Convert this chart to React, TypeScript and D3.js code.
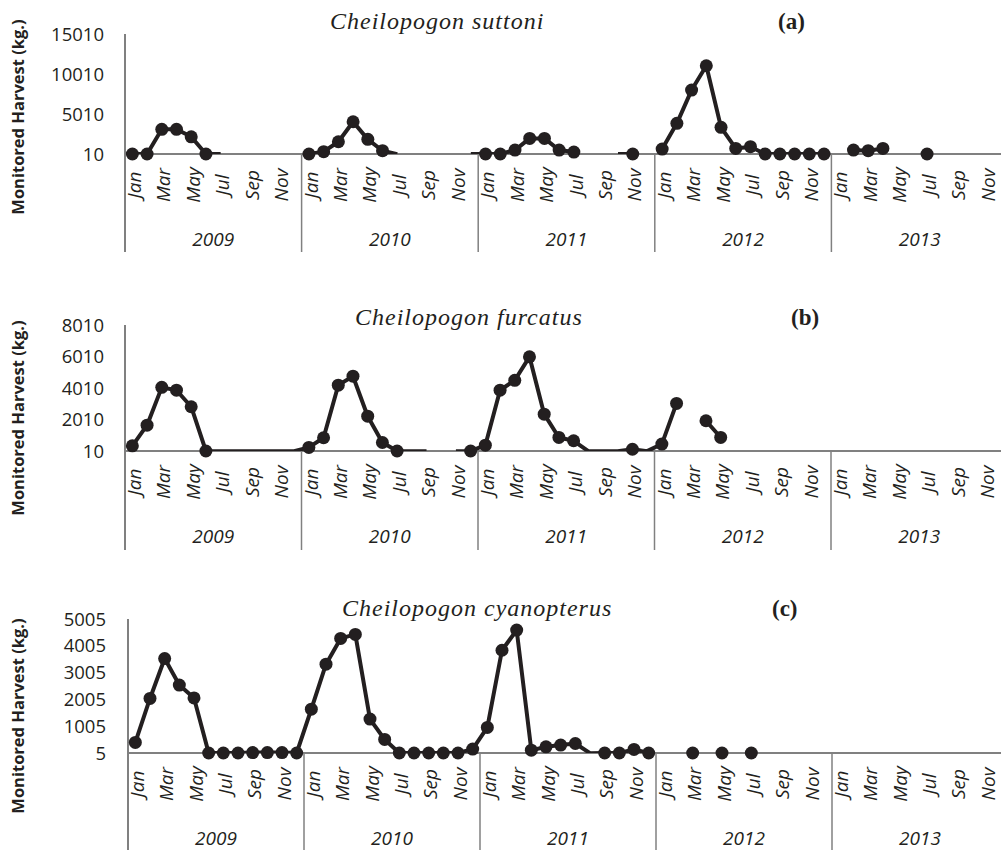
import React from "react";
import * as d3 from "d3";

// ---------- data ----------
const MONTHS = ["Jan", "Feb", "Mar", "Apr", "May", "Jun", "Jul", "Aug", "Sep", "Oct", "Nov", "Dec"];
const YEARS = ["2009", "2010", "2011", "2012", "2013"];

// Cheilopogon suttoni (kg), Jan 2009 .. Dec 2013, null = no data
const SUTTONI: (number | null)[] = [
  10, 10, 3100, 3100, 2160, 10, 0, null, null, null, null, null,
  10, 300, 1540, 4040, 1840, 420, 0, null, null, null, null, 0,
  10, 10, 500, 1960, 1960, 500, 250, null, null, 0, 10, null,
  630, 3840, 8000, 11040, 3340, 710, 920, 10, 10, 10, 10, 10,
  null, 500, 420, 710, null, null, 10, null, null, null, null, null,
];
const FURCATUS: (number | null)[] = [
  340, 1650, 4050, 3870, 2820, 10, 0, 0, 0, 0, 0, 0,
  240, 850, 4190, 4760, 2220, 550, 10, 0, 0, null, 0, 10,
  380, 3870, 4500, 5990, 2350, 870, 660, 0, 0, 0, 120, 0,
  450, 3030, null, 1930, 870, null, null, null, null, null, null, null,
  null, null, null, null, null, null, null, null, null, null, null, null,
];
const CYANOPTERUS: (number | null)[] = [
  400, 2040, 3530, 2540, 2060, 5, 5, 5, 20, 20, 20, 5,
  1640, 3320, 4280, 4430, 1270, 510, 5, 5, 5, 5, 5, 150,
  960, 3840, 4590, 110, 235, 300, 360, 0, 5, 5, 140, 5,
  null, null, 5, null, 5, null, 5, null, null, null, null, null,
  null, null, null, null, null, null, null, null, null, null, null, null,
];

const TICKS_A = [10, 5010, 10010, 15010];
const TICKS_B = [10, 2010, 4010, 6010, 8010];
const TICKS_C = [5, 1005, 2005, 3005, 4005, 5005];

const TITLES = ["Cheilopogon suttoni", "Cheilopogon furcatus", "Cheilopogon cyanopterus"];
const LETTERS = ["(a)", "(b)", "(c)"];
const Y_TITLE = "Monitored Harvest (kg.)";

// ---------- layout ----------
const W = 1001;
const H = 850;
const INK = "#231f20";
const AXIS = "#808080";
const SANS = "'Open Sans', 'DejaVu Sans', sans-serif";
const SERIF = "'Liberation Serif', 'DejaVu Serif', serif";

type PanelCfg = {
  values: (number | null)[];
  ticks: number[];
  title: string;
  letter: string;
  x0: number;
  yearW: number;
  top: number;
  axisY: number;
  bottom: number;
  titleX: number;
  titleY: number;
  letterX: number;
  yTitleY: number;
  tickRight: number;
};

const PANELS: PanelCfg[] = [
  { values: SUTTONI, ticks: TICKS_A, title: TITLES[0], letter: LETTERS[0], x0: 125, yearW: 176.6, top: 34, axisY: 154, bottom: 252, titleX: 330, titleY: 29, letterX: 778, yTitleY: 117, tickRight: 104 },
  { values: FURCATUS, ticks: TICKS_B, title: TITLES[1], letter: LETTERS[1], x0: 125, yearW: 176.5, top: 325, axisY: 451, bottom: 550, titleX: 355, titleY: 325, letterX: 791, yTitleY: 418, tickRight: 104 },
  { values: CYANOPTERUS, ticks: TICKS_C, title: TITLES[2], letter: LETTERS[2], x0: 128, yearW: 176, top: 619, axisY: 753, bottom: 850, titleX: 342, titleY: 616, letterX: 772, yTitleY: 716, tickRight: 106 },
];

function Panel({ cfg, idx }: { cfg: PanelCfg; idx: number }) {
  const n = YEARS.length * MONTHS.length;
  const indices = d3.range(n);
  const x = d3
    .scaleBand<number>()
    .domain(indices)
    .range([cfg.x0, cfg.x0 + cfg.yearW * YEARS.length])
    .padding(0);
  const yMin = cfg.ticks[0];
  const yMax = cfg.ticks[cfg.ticks.length - 1];
  const y = d3.scaleLinear().domain([yMin, yMax]).range([cfg.axisY, cfg.top]);
  const cx = (i: number) => (x(i) as number) + x.bandwidth() / 2;

  const line = d3
    .line<number | null>()
    .defined((d) => d !== null)
    .x((_, i) => cx(i))
    .y((d) => y(d as number));
  const path = line(cfg.values) || "";
  const clipId = `clip-${idx}`;
  const yearX = (k: number) => cfg.x0 + cfg.yearW * k;

  return (
    <g>
      <defs>
        <clipPath id={clipId}>
          <rect x={0} y={cfg.top - 20} width={W} height={cfg.axisY - cfg.top + 20} />
        </clipPath>
      </defs>
      {/* titles */}
      <text x={cfg.titleX} y={cfg.titleY} fontFamily={SERIF} fontStyle="italic" fontSize={24} letterSpacing={1} fill={INK}>
        {cfg.title}
      </text>
      <text x={cfg.letterX} y={cfg.titleY} fontFamily={SERIF} fontWeight="bold" fontSize={23} fill={INK}>
        {cfg.letter}
      </text>
      {/* y axis title */}
      <text
        transform={`translate(18,${cfg.yTitleY}) rotate(-90)`}
        textAnchor="middle"
        dy="0.35em"
        fontFamily={SANS}
        fontWeight="bold"
        fontSize={16.5}
        fill={INK}
      >
        {Y_TITLE}
      </text>
      {/* y tick labels */}
      {cfg.ticks.map((t) => (
        <text key={t} x={cfg.tickRight} y={y(t)} dy="0.36em" textAnchor="end" fontFamily={SANS} fontSize={18.5} fill={INK}>
          {t}
        </text>
      ))}
      {/* axes */}
      <line x1={cfg.x0} x2={W + 10} y1={cfg.axisY} y2={cfg.axisY} stroke={AXIS} strokeWidth={2} />
      {d3.range(YEARS.length + 1).map((k) => (
        <line
          key={k}
          x1={yearX(k)}
          x2={yearX(k)}
          y1={k === 0 ? cfg.top : cfg.axisY}
          y2={cfg.bottom}
          stroke={AXIS}
          strokeWidth={k === 0 ? 2 : 1.5}
        />
      ))}
      {/* month labels */}
      {indices
        .filter((i) => i % 2 === 0)
        .map((i) => (
          <text
            key={i}
            transform={`translate(${cx(i) + 2},${cfg.axisY + 31}) rotate(-90)`}
            textAnchor="middle"
            dy="0.35em"
            fontFamily={SANS}
            fontStyle="italic"
            fontSize={19}
            fill={INK}
          >
            {MONTHS[i % 12]}
          </text>
        ))}
      {/* year labels */}
      {YEARS.map((yr, k) => (
        <text
          key={yr}
          x={yearX(k) + cfg.yearW / 2}
          y={cfg.axisY + 92}
          textAnchor="middle"
          fontFamily={SANS}
          fontStyle="italic"
          fontSize={19}
          fill={INK}
        >
          {yr}
        </text>
      ))}
      {/* series */}
      <path d={path} fill="none" stroke={INK} strokeWidth={4} strokeLinejoin="round" clipPath={`url(#${clipId})`} />
      {cfg.values.map((v, i) =>
        v !== null && v >= yMin ? <circle key={i} cx={cx(i)} cy={y(v)} r={6.5} fill={INK} /> : null
      )}
    </g>
  );
}

export default function App() {
  return (
    <svg
      width={W}
      height={H}
      viewBox={`0 0 ${W} ${H}`}
      style={{ position: "absolute", left: 0, top: 0, background: "#fff", display: "block" }}
    >
      <rect width={W} height={H} fill="#fff" />
      {PANELS.map((p, i) => (
        <Panel key={i} cfg={p} idx={i} />
      ))}
    </svg>
  );
}
